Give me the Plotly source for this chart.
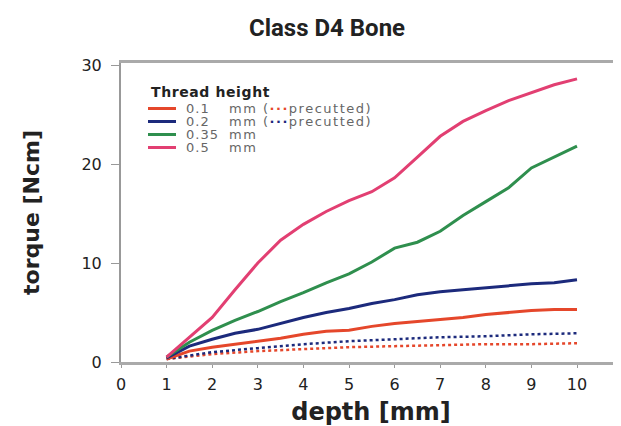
import plotly.graph_objects as go

depth = [1, 1.5, 2, 2.5, 3, 3.5, 4, 4.5, 5, 5.5, 6, 6.5, 7, 7.5, 8, 8.5, 9, 9.5, 10]
torque_01 = [0.3, 1.1, 1.5, 1.8, 2.1, 2.4, 2.8, 3.1, 3.2, 3.6, 3.9, 4.1, 4.3, 4.5, 4.8, 5.0, 5.2, 5.3, 5.3]
torque_02 = [0.4, 1.6, 2.3, 2.9, 3.3, 3.9, 4.5, 5.0, 5.4, 5.9, 6.3, 6.8, 7.1, 7.3, 7.5, 7.7, 7.9, 8.0, 8.3]
torque_035 = [0.5, 2.0, 3.2, 4.2, 5.1, 6.1, 7.0, 8.0, 8.9, 10.1, 11.5, 12.1, 13.2, 14.8, 16.2, 17.6, 19.6, 20.7, 21.8]
torque_05 = [0.5, 2.5, 4.5, 7.3, 10.0, 12.3, 13.9, 15.2, 16.3, 17.2, 18.6, 20.7, 22.8, 24.3, 25.4, 26.4, 27.2, 28.0, 28.6]

depth_pc = [1, 2, 3, 4, 5, 6, 7, 8, 9, 10]
torque_01_pc = [0.3, 0.8, 1.1, 1.3, 1.5, 1.6, 1.7, 1.8, 1.8, 1.9]
torque_02_pc = [0.3, 1.0, 1.4, 1.8, 2.1, 2.3, 2.5, 2.6, 2.8, 2.9]

labels = ["0.1", "0.2", "0.35", "0.5"]
RED, BLUE, GREEN, PINK = "#e5472b", "#1c2a7c", "#2f8f4e", "#e23f72"

fig = go.Figure()
for y, c in [(torque_01_pc, RED), (torque_02_pc, BLUE)]:
    fig.add_trace(go.Scatter(x=depth_pc, y=y, mode="lines",
                             line=dict(color=c, width=2.5, dash="dot"), showlegend=False))
for y, c in [(torque_01, RED), (torque_02, BLUE), (torque_035, GREEN), (torque_05, PINK)]:
    fig.add_trace(go.Scatter(x=depth, y=y, mode="lines",
                             line=dict(color=c, width=3), showlegend=False))

# page body has an 8px margin; figure is sized so that it fills the 621x426 window
OFF = 8
W, H = 621 - OFF, 426 - OFF
PL, PR, PT, PB = 121, 621, 63, 362  # plot area in page pixels
L, T = PL - OFF, PT - OFF
R, B = 0, H - (PB - OFF)
pw, ph = PR - PL, PB - PT
def px(x): return (x - PL) / pw
def py(y): return (PB - y) / ph

FONT = "DejaVu Sans"
ann = [dict(text="<span style='letter-spacing:0.6px'><b>Thread height</b></span>", x=px(149), y=py(92),
            xanchor="left", yanchor="middle", font=dict(family=FONT, size=14, color="#222"))]
shapes = []
colors = [RED, BLUE, GREEN, PINK]
rows = [108.5, 121.5, 134.5, 147.5]
for lab, c, ry, i in zip(labels, colors, rows, range(4)):
    shapes.append(dict(type="line", xref="paper", yref="paper", x0=px(148), x1=px(176),
                       y0=py(ry), y1=py(ry), line=dict(color=c, width=3)))
    ann.append(dict(text="<span style='letter-spacing:1px'>%s</span>" % lab, x=px(184), y=py(ry),
                    xanchor="left", yanchor="middle", font=dict(family=FONT, size=13, color="#666")))
    if i < 2:
        t = ("<span style='letter-spacing:1.5px'>mm (<span style='color:%s'><b>···</b></span>"
             "precutted)</span>") % c
    else:
        t = "<span style='letter-spacing:1.5px'>mm</span>"
    ann.append(dict(text=t, x=px(227), y=py(ry), xanchor="left", yanchor="middle",
                    font=dict(family=FONT, size=13, color="#666")))

for a in ann:
    a.update(xref="paper", yref="paper", showarrow=False)

fig.update_layout(
    width=W, height=H, margin=dict(l=L, r=R, t=T, b=B, autoexpand=False),
    paper_bgcolor="white", plot_bgcolor="white",
    title=dict(text="<b>Class D4 Bone</b>", x=(327 - OFF) / W, xanchor="center",
               y=1 - (28 - OFF) / H, yanchor="middle",
               font=dict(family="Liberation Sans Narrow, Roboto", size=24, color="#222")),
    annotations=ann, shapes=shapes,
    xaxis=dict(range=[0, pw / 45.6], tickvals=[0, 1, 2, 3, 4, 5, 6, 7, 8, 9, 10], automargin=False,
               showgrid=False, zeroline=False, showline=True, linecolor="#aaa", linewidth=3,
               mirror=True, ticks="outside", ticklen=3, tickcolor="#999", ticklabelstandoff=3,
               tickfont=dict(family=FONT, size=16, color="#222"),
               title=dict(text="<b>depth [mm]</b>", font=dict(family=FONT, size=24, color="#222"), standoff=12)),
    yaxis=dict(range=[0, ph / 9.9], tickvals=[0, 10, 20, 30], automargin=False,
               showgrid=False, zeroline=False, showline=True, linecolor="#999", linewidth=2,
               ticks="outside", ticklen=8, tickcolor="#999", ticklabelstandoff=6,
               tickfont=dict(family=FONT, size=16, color="#222"),
               title=dict(text="<b>torque [Ncm]</b>", font=dict(family=FONT, size=22, color="#222"), standoff=36)),
)
fig.write_html("out.html")
